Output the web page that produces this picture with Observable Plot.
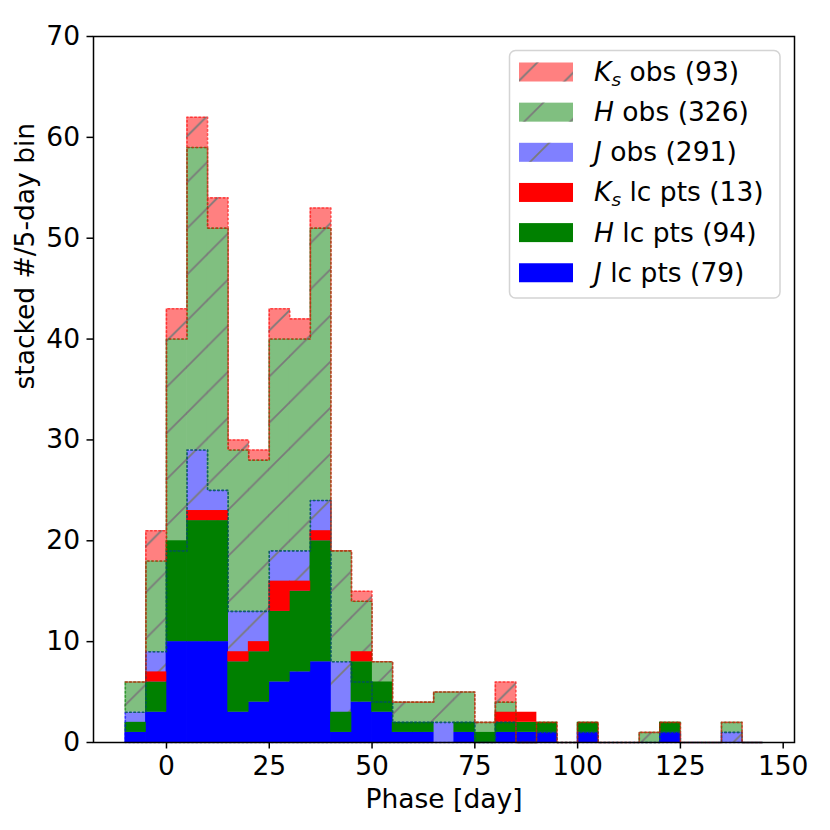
<!DOCTYPE html>
<html><head><meta charset="utf-8">
<script src="https://cdn.jsdelivr.net/npm/d3@7"></script>
<script src="https://cdn.jsdelivr.net/npm/@observablehq/plot@0.6"></script>
<style>
html,body{margin:0;padding:0;background:#fff;}
#wrap{position:relative;width:830px;height:830px;}
#wrap svg{position:absolute;left:0;top:0;}
</style></head><body><div id="wrap"></div>
<script>
// ---- data ----
const binStart = [-10,-5,0,5,10,15,20,25,30,35,40,45,50,55,60,65,70,75,80,85,90,95,100,105,110,115,120,125,130,135,140];
const binWidth = 5;
const jObs  = [3,9,19,29,25,13,13,19,19,24,8,6,4,2,2,2,2,0,2,0,1,0,1,0,0,0,1,0,0,1,0];
const hObs  = [3,9,21,30,26,16,15,21,21,27,11,8,4,2,2,3,3,2,2,0,1,0,1,0,0,1,1,0,0,1,0];
const ksObs = [0,3,3,3,3,1,1,3,2,2,0,1,0,0,0,0,0,0,2,0,0,0,0,0,0,0,0,0,0,0,0];
const jLc   = [1,3,10,10,10,3,4,6,7,8,1,4,3,1,1,0,1,0,1,1,1,0,1,0,0,0,1,0,0,0,0];
const hLc   = [1,3,10,12,12,5,5,7,8,12,2,4,3,1,1,0,1,1,1,1,1,0,1,0,0,0,1,0,0,0,0];
const ksLc  = [0,1,0,1,1,1,1,3,1,1,0,1,0,0,0,0,0,0,1,1,0,0,0,0,0,0,0,0,0,0,0];
const xTicks = [0,25,50,75,100,125,150];
const yTicks = [0,10,20,30,40,50,60,70];
const legendObsCounts = [93,326,291];   // Ks, H, J
const legendLcCounts  = [13,94,79];     // Ks, H, J

const obsFill = {J:"#8080ff", H:"#80bf80", Ks:"#ff8080"};
const lcFill  = {J:"#0000ff", H:"#008000", Ks:"#ff0000"};
const lineCol = {J:"#0000ff", H:"#008000", Ks:"#ff0000"};

function stackLayers(layers){
  const rows=[]; const outlines=[];
  let base = binStart.map(()=>0);
  for (const {band, values} of layers){
    const top = base.map((b,i)=>b+values[i]);
    binStart.forEach((x,i)=>rows.push({band, x1:x, x2:x+binWidth, y1:base[i], y2:top[i]}));
    outlines.push({band, base, top});
    base = top;
  }
  return {rows, outlines, total: base};
}
const obs = stackLayers([{band:"J",values:jObs},{band:"H",values:hObs},{band:"Ks",values:ksObs}]);
const lc  = stackLayers([{band:"J",values:jLc},{band:"H",values:hLc},{band:"Ks",values:ksLc}]);
const hatchRows = binStart.map((x,i)=>({x1:x, x2:x+binWidth, y1:0, y2:obs.total[i]}));

function outlinePoints({band, base, top}){
  const pts=[];
  binStart.forEach((x,i)=>{pts.push({x, y:top[i]}); pts.push({x:x+binWidth, y:top[i]});});
  for(let i=binStart.length-1;i>=0;i--){pts.push({x:binStart[i]+binWidth, y:base[i]}); pts.push({x:binStart[i], y:base[i]});}
  pts.push({...pts[0]});
  return pts;
}

const rectOpts = {x1:"x1", x2:"x2", y1:"y1", y2:"y2", insetLeft:-0.35, insetRight:-0.35};
const marks = [];
for (const band of ["J","H","Ks"]) {
  marks.push(Plot.rect(obs.rows.filter(d=>d.band===band), {...rectOpts, fill:obsFill[band]}));
}
marks.push(Plot.rect(hatchRows, {...rectOpts, fill:"url(#hatch)"}));
for (const band of ["J","H","Ks"]) {
  marks.push(Plot.rect(lc.rows.filter(d=>d.band===band), {...rectOpts, fill:lcFill[band]}));
}
for (const o of obs.outlines) {
  marks.push(Plot.line(outlinePoints(o), {x:"x", y:"y", stroke:lineCol[o.band], strokeWidth:1.6, strokeDasharray:"1.6,2.6", strokeOpacity:0.6, curve:"linear"}));
}
marks.push(Plot.frame({stroke:"black", strokeWidth:1.5}));
marks.push(Plot.axisX({ticks:xTicks, tickSize:6.5, tickPadding:7.5, fontSize:26.5, label:null, strokeWidth:1.5}));
marks.push(Plot.axisY({ticks:yTicks, tickSize:6.5, tickPadding:7, fontSize:26.5, label:null, strokeWidth:1.5}));
marks.push(Plot.text(["Phase [day]"], {frameAnchor:"bottom", dy:65, fontSize:26.5, fill:"black"}));
marks.push(Plot.text(["stacked #/5-day bin"], {frameAnchor:"left", rotate:-90, dx:-68, fontSize:26.5, fill:"black"}));

const chart = Plot.plot({
  width:830, height:830,
  marginLeft:93, marginRight:36, marginTop:36, marginBottom:88,
  x:{domain:[-17.75,152.75]},
  y:{domain:[0,70]},
  style:{fontFamily:"DejaVu Sans", fontSize:"26.5px", color:"black", background:"white"},
  marks
});

const S = 46.1;
const ns = "http://www.w3.org/2000/svg";
const defs = document.createElementNS(ns,"defs");
defs.innerHTML = `<pattern id="hatch" patternUnits="userSpaceOnUse" width="${S}" height="${S}" patternTransform="translate(0.5,0)">
<path d="M-2,2 L2,-2 M0,${S} L${S},0 M${S-2},${S+2} L${S+2},${S-2}" stroke="#7a7a7a" stroke-width="1.8" fill="none"/></pattern>`;
chart.insertBefore(defs, chart.firstChild);
document.getElementById("wrap").appendChild(chart);

// ---- legend (overlay in page coordinates) ----
const lg = document.createElementNS(ns,"svg");
lg.setAttribute("width",830); lg.setAttribute("height",830);
lg.style.pointerEvents="none";
const legendItems = [
  {b:"K", sub:"s", txt:` obs (${legendObsCounts[0]})`, fill:obsFill.Ks, hatch:true},
  {b:"H", sub:null, txt:` obs (${legendObsCounts[1]})`, fill:obsFill.H, hatch:true},
  {b:"J", sub:null, txt:` obs (${legendObsCounts[2]})`, fill:obsFill.J, hatch:true},
  {b:"K", sub:"s", txt:` lc pts (${legendLcCounts[0]})`, fill:lcFill.Ks, hatch:false},
  {b:"H", sub:null, txt:` lc pts (${legendLcCounts[1]})`, fill:lcFill.H, hatch:false},
  {b:"J", sub:null, txt:` lc pts (${legendLcCounts[2]})`, fill:lcFill.J, hatch:false},
];
let html = `<rect x="509.5" y="50.5" width="270.5" height="247.5" rx="6" ry="6" fill="white" fill-opacity="0.85" stroke="#d4d4d4" stroke-width="1.5"/>`;
legendItems.forEach((it,k)=>{
  const cy = 72 + k*40.15;
  html += `<rect x="519" y="${cy-9.5}" width="54" height="19" fill="${it.fill}"/>`;
  if (it.hatch) html += `<rect x="519" y="${cy-9.5}" width="54" height="19" fill="url(#hatch)"/>`;
  let t = `<text x="594" y="${cy+9}" font-family="DejaVu Sans" font-size="26.5" fill="black"><tspan font-style="italic">${it.b}</tspan>`;
  if (it.sub) t += `<tspan font-style="italic" font-size="18.5" dy="5">${it.sub}</tspan><tspan dy="-5">${it.txt}</tspan>`;
  else t += `<tspan>${it.txt}</tspan>`;
  t += `</text>`;
  html += t;
});
lg.innerHTML = html;
document.getElementById("wrap").appendChild(lg);
</script></body></html>
